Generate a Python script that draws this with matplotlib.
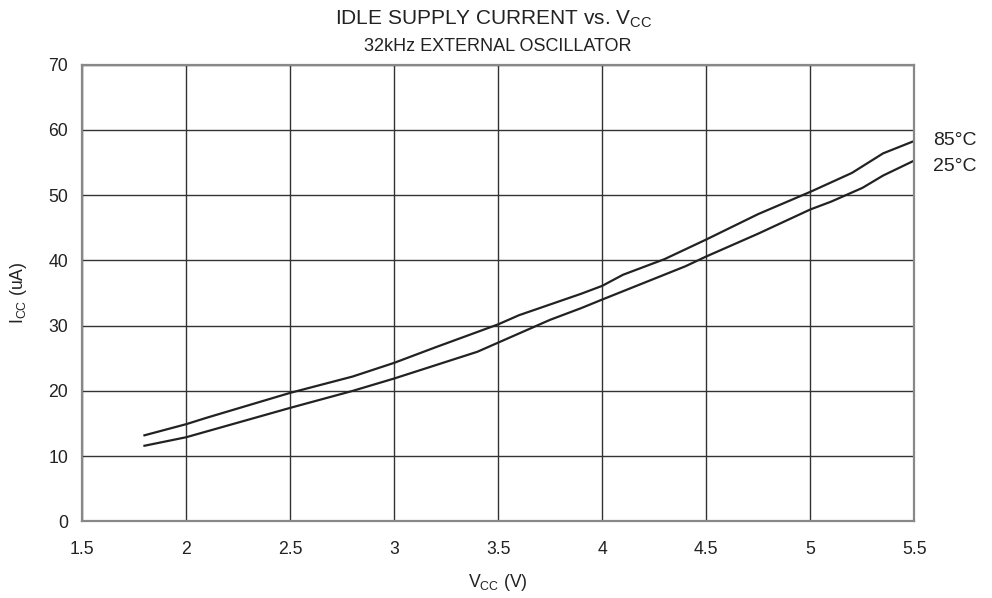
import matplotlib
matplotlib.use('Agg')
import matplotlib.pyplot as plt

plt.rcParams['font.family'] = ['Liberation Sans', 'DejaVu Sans']
plt.rcParams['mathtext.fontset'] = 'custom'
plt.rcParams['mathtext.rm'] = 'Liberation Sans'

# 85°C curve
v_85 = [1.8, 2.0, 2.1, 2.5, 2.8, 3.0, 3.2, 3.5, 3.6, 3.9, 4.0, 4.1, 4.3, 4.4,
        4.5, 4.75, 5.0, 5.2, 5.35, 5.5]
i_85 = [13.2, 14.9, 15.9, 19.7, 22.2, 24.3, 26.7, 30.2, 31.6, 34.9, 36.1, 37.8,
        40.2, 41.7, 43.2, 47.1, 50.5, 53.4, 56.4, 58.3]

# 25°C curve
v_25 = [1.8, 2.0, 2.5, 2.8, 3.0, 3.4, 3.5, 3.75, 3.9, 4.0, 4.4, 4.5, 4.6, 4.75,
        5.0, 5.1, 5.25, 5.35, 5.5]
i_25 = [11.6, 12.9, 17.4, 20.0, 21.9, 26.0, 27.4, 30.9, 32.7, 34.0, 39.1, 40.6,
        42.0, 44.1, 47.8, 49.0, 51.1, 53.0, 55.3]

x_ticks = [1.5, 2, 2.5, 3, 3.5, 4, 4.5, 5, 5.5]
x_tick_labels = ['1.5', '2', '2.5', '3', '3.5', '4', '4.5', '5', '5.5']
y_ticks = [0, 10, 20, 30, 40, 50, 60, 70]

fig = plt.figure(figsize=(9.92, 5.98), dpi=100)
ax = fig.add_axes([0.0827, 0.128, 0.839, 0.764])

ax.plot(v_85, i_85, color='#222222', lw=1.6)
ax.plot(v_25, i_25, color='#222222', lw=1.6)

ax.set_xlim(1.5, 5.5)
ax.set_ylim(0, 70)
ax.set_xticks(x_ticks)
ax.set_xticklabels(x_tick_labels)
ax.set_yticks(y_ticks)
ax.tick_params(length=0, labelsize=12.7, colors='#222222')
ax.tick_params(axis='x', pad=14)
ax.tick_params(axis='y', pad=10)
ax.grid(True, color='#333333', lw=1)
ax.set_axisbelow(True)
for s in ax.spines.values():
    s.set_color('#888888')
    s.set_linewidth(1.6)

ax.text(1.022, 58.4, '85°C', transform=ax.get_yaxis_transform(),
        fontsize=14, va='center', ha='left', color='#222222')
ax.text(1.022, 54.4, '25°C', transform=ax.get_yaxis_transform(),
        fontsize=14, va='center', ha='left', color='#222222')

ax.set_xlabel(r'V$_{\mathregular{CC}}$ (V)', fontsize=12.7, labelpad=10, color='#222222')
ax.set_ylabel(r'I$_{\mathregular{CC}}$ (uA)', fontsize=12.7, labelpad=14, color='#222222')

fig.text(0.498, 0.968, r'IDLE SUPPLY CURRENT vs. V$_{\mathregular{CC}}$',
         ha='center', va='center', fontsize=15, color='#222222')
fig.text(0.502, 0.922, '32kHz EXTERNAL OSCILLATOR',
         ha='center', va='center', fontsize=13, color='#222222')

fig.savefig('out.png', dpi=100)
